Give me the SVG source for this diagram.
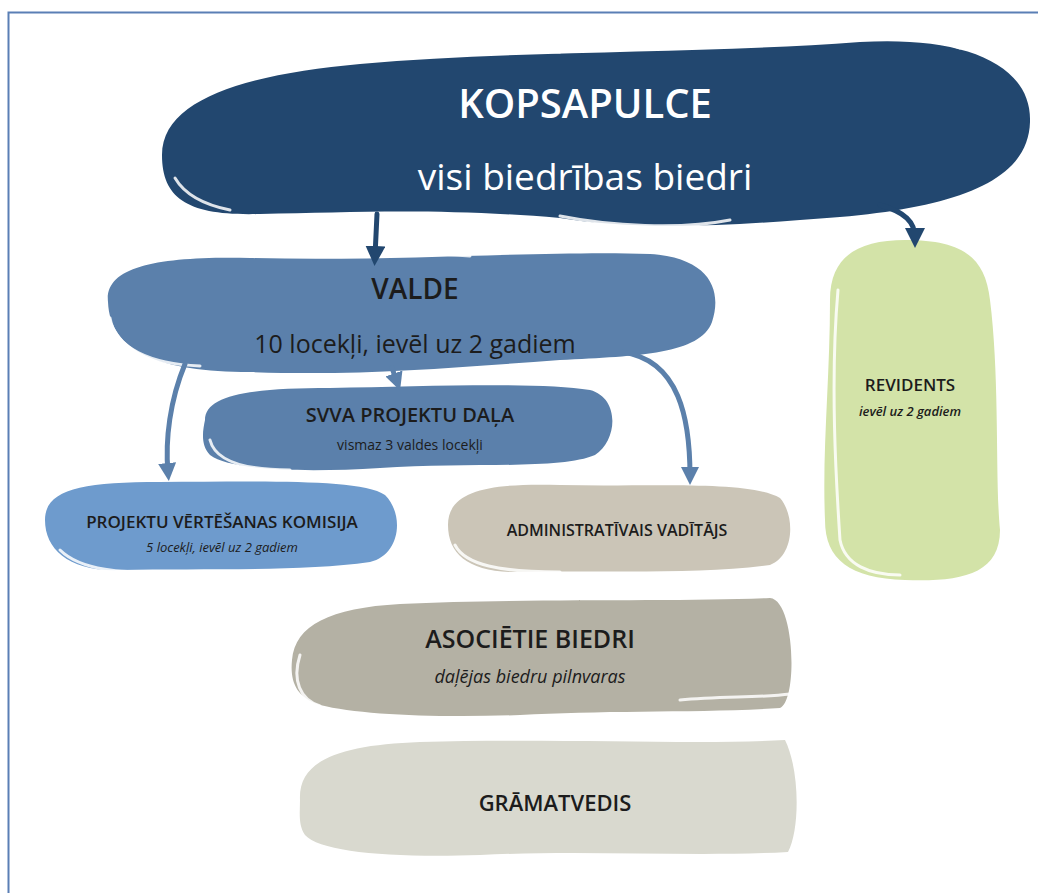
<svg xmlns="http://www.w3.org/2000/svg" width="1038" height="893" viewBox="0 0 1038 893">
<style>
.t{font-family:"Open Sans","Liberation Sans",sans-serif;text-anchor:middle;fill:#1c1c1c;font-weight:600}
.n{font-weight:400}
.w{fill:#ffffff}
.it{font-style:italic}
.streak{fill:none;stroke:#ffffff;stroke-width:3;stroke-linecap:round;opacity:0.85}
.edge{fill:none;stroke-width:5;stroke-linecap:round}
</style>
<defs>
<marker id="aNavy" viewBox="0 0 10 10" refX="5" refY="5" markerWidth="20" markerHeight="20" markerUnits="userSpaceOnUse" orient="auto"><path d="M0,0 L10,5 L0,10 Z" fill="#22476f"/></marker>
<marker id="aSteel" viewBox="0 0 10 10" refX="5" refY="5" markerWidth="18" markerHeight="18" markerUnits="userSpaceOnUse" orient="auto"><path d="M0,0 L10,5 L0,10 Z" fill="#5b80ab"/></marker>
</defs>
<rect width="1038" height="893" fill="#ffffff"/>
<path d="M8.5,893 L8.5,12.5 L1038,12.5" fill="none" stroke="#5a7fb5" stroke-width="2"/>

<g id="kopsapulce">
<path d="M162,155 C162,98 250,74 360,64 C520,50 700,54 860,42 C960,36 1032,62 1030,122 C1028,188 940,212 800,220 C700,228 620,228 560,218 C440,208 360,212 260,214 C190,216 162,200 162,155 Z" fill="#22476f"/>
<path class="streak" d="M330,62 C420,48 480,48 560,52"/>
<path class="streak" d="M790,38 C860,32 930,36 960,48"/>
<path class="streak" d="M175,178 C185,195 205,205 230,210"/>
<path class="streak" d="M560,216 C610,226 680,230 730,220"/>
<text class="t w" x="585" y="118" font-size="40">KOPSAPULCE</text>
<text class="t w n" x="585" y="190" font-size="37">visi biedrības biedri</text>
</g>

<g id="valde">
<path d="M108,302 C104,266 160,256 250,258 C400,262 550,250 650,254 C712,258 722,292 712,322 C700,354 640,356 560,360 C450,368 360,376 250,372 C160,372 110,352 108,302 Z" fill="#5b80ab"/>
<path class="streak" d="M110,318 C115,348 150,364 200,366" stroke="#c8d3df"/>
<path class="streak" d="M300,256 C360,250 420,252 470,256"/>
<text class="t" x="415" y="299" font-size="28">VALDE</text>
<text class="t n" x="415" y="353" font-size="25">10 locekļi, ievēl uz 2 gadiem</text>
</g>

<g id="svva">
<path d="M205,420 C205,395 250,388 330,388 C430,386 540,382 590,390 C620,398 618,440 595,455 C560,470 470,462 380,468 C300,473 230,470 210,455 C200,445 203,430 205,420 Z" fill="#5b80ab"/>
<path class="streak" d="M210,440 C215,460 240,470 290,470"/>
<text class="t" x="410" y="422" font-size="20">SVVA PROJEKTU DAĻA</text>
<text class="t n" x="410" y="450" font-size="14">vismaz 3 valdes locekļi</text>
</g>

<g id="vertesana">
<path d="M45,520 C45,490 80,482 160,482 C250,482 360,478 385,495 C405,515 400,555 370,562 C300,572 200,568 120,570 C70,572 45,550 45,520 Z" fill="#6e9bcd"/>
<path class="streak" d="M60,550 C80,570 120,574 180,572" stroke="#dce6f0"/>
<text class="t" x="222" y="528" font-size="17">PROJEKTU VĒRTĒŠANAS KOMISIJA</text>
<text class="t it n" x="222" y="552" font-size="13">5 locekļi, ievēl uz 2 gadiem</text>
</g>

<g id="admin">
<path d="M448,525 C448,490 490,483 560,485 C650,487 750,480 780,498 C795,515 795,555 770,565 C700,575 600,570 520,572 C470,573 448,555 448,525 Z" fill="#cbc5b7"/>
<path class="streak" d="M455,545 C465,565 500,572 560,572"/>
<text class="t" x="617" y="536" font-size="16">ADMINISTRATĪVAIS VADĪTĀJS</text>
</g>

<g id="revidents">
<path d="M830,300 C830,255 860,240 905,240 C960,240 985,255 990,300 C1000,380 995,480 1000,530 C1000,575 960,582 905,580 C850,578 825,560 825,520 C822,450 830,380 830,300 Z" fill="#d3e3a8"/>
<path class="streak" d="M838,290 C830,380 836,480 840,540 C845,565 870,575 900,575" stroke="#f3f6ea"/>
<text class="t" x="910" y="391" font-size="17">REVIDENTS</text>
<text class="t it" x="910" y="416" font-size="13">ievēl uz 2 gadiem</text>
</g>

<g id="asocietie">
<path d="M292,660 C295,625 330,608 400,604 C520,598 680,602 770,598 C795,600 798,700 780,708 C700,713 600,710 520,715 C440,718 360,715 320,705 C295,697 290,680 292,660 Z" fill="#b4b1a4"/>
<path class="streak" d="M300,655 C292,680 300,700 320,706" stroke="#e8e6e0"/>
<path class="streak" d="M680,700 C720,696 760,698 790,694"/>
<text class="t" x="530" y="648" font-size="25">ASOCIĒTIE BIEDRI</text>
<text class="t it n" x="530" y="683" font-size="18">daļējas biedru pilnvaras</text>
</g>

<g id="gramatvedis">
<path d="M300,800 C298,760 340,745 420,742 C550,738 700,745 785,740 C800,770 800,830 788,852 C700,857 580,850 480,855 C390,858 320,852 305,835 C298,825 300,812 300,800 Z" fill="#d9d9cf"/>
<text class="t" x="555" y="811" font-size="22">GRĀMATVEDIS</text>
</g>

<g id="connectors">
<path class="edge" stroke="#22476f" d="M377,214 L375,256" marker-end="url(#aNavy)"/>
<path class="edge" stroke="#22476f" d="M880,205 C905,212 915,222 915,238" marker-end="url(#aNavy)"/>
<path class="edge" stroke="#5b80ab" d="M185,364 C170,400 165,440 168,472" marker-end="url(#aSteel)"/>
<path class="edge" stroke="#5b80ab" d="M392,368 L397,382" marker-end="url(#aSteel)"/>
<path class="edge" stroke="#5b80ab" d="M622,352 C680,360 690,420 690,476" marker-end="url(#aSteel)"/>
</g>
</svg>
